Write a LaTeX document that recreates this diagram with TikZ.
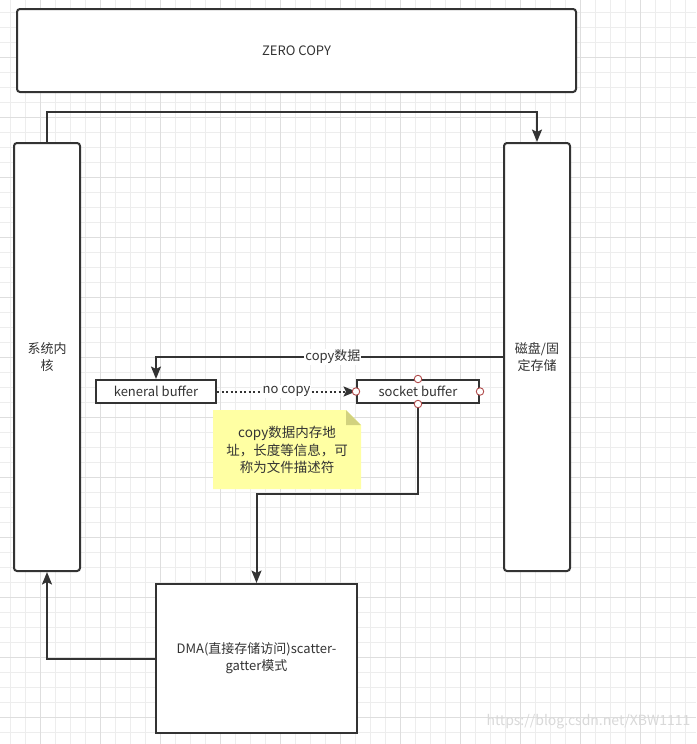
\documentclass[tikz,border=0pt]{standalone}
\usepackage{fontspec}
\newfontfamily\cjk{Noto Sans CJK SC}
\usepackage{xcolor}
\usepackage{tikz}
\usetikzlibrary{positioning, arrows.meta, calc}
\definecolor{ink}{HTML}{333333}
\definecolor{gridlo}{HTML}{EDEDED}
\definecolor{gridhi}{HTML}{DEDEDE}
\definecolor{notefill}{HTML}{FFFFA3}
\definecolor{notefold}{HTML}{D2D27E}
\definecolor{handle}{HTML}{B04A4A}

\begin{document}
\begin{tikzpicture}[
        x=1pt, y=-1pt,
        font=\cjk\fontsize{13}{17}\selectfont,
        text=ink,
        box/.style    ={draw=ink, line width=2pt, align=center, inner sep=0pt,
                        fill=white},
        roundbox/.style={box, rounded corners=3pt},
        buf/.style    ={box, minimum width=121pt, minimum height=23pt},
        arr/.style    ={-{Stealth[length=12.5pt, width=10pt, inset=2.5pt]}, line width=2pt, draw=ink},
        lbl/.style    ={fill=white, inner sep=1pt},
        knob/.style   ={circle, draw=handle, fill=white, line width=0.9pt,
                        minimum size=7.5pt, inner sep=0pt}
    ]
      \useasboundingbox (0,0) rectangle (696,744);
      \fill[white] (0,0) rectangle (696,744);

      % ===== GRID =====
      \foreach \x in {10,25,...,695} \draw[gridlo, line width=0.8pt] (\x,0) -- (\x,744);
      \foreach \y in {12,27,...,743} \draw[gridlo, line width=0.8pt] (0,\y) -- (696,\y);
      \foreach \x in {40,100,...,640} \draw[gridhi, line width=0.8pt] (\x,0) -- (\x,744);
      \foreach \y in {57,117,...,717} \draw[gridhi, line width=0.8pt] (0,\y) -- (696,\y);

      % ===== BOXES =====
      \node[roundbox, minimum width=559pt, minimum height=83pt] (zero) at (296.5,50.5) {ZERO COPY};
      \node[roundbox, minimum width=66pt, minimum height=428pt] (sys)  at (47,357) {系统内\\核};
      \node[roundbox, minimum width=66pt, minimum height=428pt] (disk) at (537,357) {磁盘/固\\定存储};
      \node[buf, minimum width=120pt] (kbuf) at (156,391.5) {keneral buffer};
      \node[buf, minimum width=122pt] (sbuf) at (418,391.5) {socket buffer};
      \node[box, minimum width=201pt, minimum height=149pt] (dma) at (256.5,658.5)
            {DMA(直接存储访问)scatter-\\gatter模式};

      % ===== NOTE =====
      \fill[notefill] (213,410) -- (346,410) -- (361,425) -- (361,489) -- (213,489) -- cycle;
      \fill[notefold] (346,410) -- (361,425) -- (346,425) -- cycle;
      \node[align=center, inner sep=0pt, font=\cjk\fontsize{13.5}{17.5}\selectfont] (note) at (287,450)
            {copy数据内存地\\址，长度等信息，可\\称为文件描述符};

      % ===== CONNECTORS =====
      \draw[arr] (sys.north) -- ++(0,-30) -| (disk.north);
      \draw[arr] (disk.west) -| (kbuf.north) node[lbl, pos=0.245] {copy数据};
      \draw[arr, dash pattern=on 2pt off 2.5pt] (kbuf.east) -- (sbuf.west) node[lbl, midway] {no copy};
      \draw[arr] (sbuf.south) -- ++(0,90) -| (dma.north);
      \draw[arr] (dma.west) -| (sys.south);

      % connection handles
      \node[knob] (hw) at (sbuf.west)  {};
      \node[knob] (he) at (sbuf.east)  {};
      \node[knob] (hn) at (sbuf.north) {};
      \node[knob] (hs) at (sbuf.south) {};

      \node[text=gray!30, font=\cjk\fontsize{14}{16}\selectfont, anchor=east] (mark) at (694,722)
            {https://blog.csdn.net/XBW1111};
\end{tikzpicture}
\end{document}
